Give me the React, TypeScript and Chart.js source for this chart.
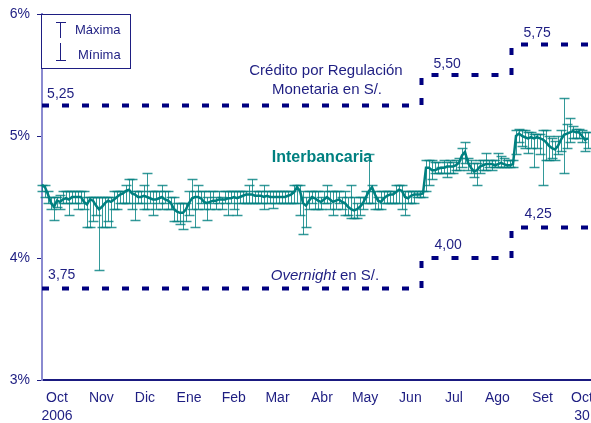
import React, { useEffect, useRef } from 'react';
import { Chart, registerables } from 'chart.js';

Chart.register(...registerables);

// ---- data ----
const MONTH_LABELS: string[][] = [
  ['Oct', '2006'], ['Nov'], ['Dic'], ['Ene'], ['Feb'], ['Mar'], ['Abr'],
  ['May'], ['Jun'], ['Jul'], ['Ago'], ['Set'], ['Oct', '30'],
];
const MONTH_TICK_POS = [5, 19.8, 34.3, 49, 63.9, 78.5, 93.3, 107.7, 122.8, 137.3, 151.8, 166.8, 180];
const X_MAX = 190;

const RATE = [
  4.60, 4.58, 4.52, 4.45, 4.42, 4.47, 4.46, 4.48, 4.49, 4.48,
  4.50, 4.50, 4.50, 4.50, 4.46, 4.44, 4.48, 4.47, 4.43, 4.40,
  4.42, 4.45, 4.47, 4.46, 4.48, 4.50, 4.52, 4.53, 4.55, 4.56,
  4.53, 4.52, 4.50, 4.50, 4.51, 4.50, 4.49, 4.48, 4.48, 4.49,
  4.50, 4.48, 4.47, 4.45, 4.40, 4.38, 4.37, 4.37, 4.40, 4.45,
  4.49, 4.50, 4.50, 4.49, 4.46, 4.45, 4.46, 4.47, 4.47, 4.48,
  4.48, 4.48, 4.49, 4.49, 4.50, 4.49, 4.50, 4.51, 4.52, 4.52,
  4.52, 4.51, 4.51, 4.51, 4.50, 4.51, 4.50, 4.50, 4.50, 4.50,
  4.50, 4.50, 4.51, 4.52, 4.54, 4.58, 4.55, 4.45, 4.43, 4.47,
  4.50, 4.49, 4.47, 4.46, 4.48, 4.50, 4.48, 4.46, 4.47, 4.48,
  4.46, 4.45, 4.42, 4.40, 4.39, 4.40, 4.42, 4.45, 4.50, 4.55,
  4.58, 4.52, 4.47, 4.46, 4.49, 4.51, 4.52, 4.52, 4.54, 4.56,
  4.55, 4.50, 4.49, 4.51, 4.52, 4.52, 4.52, 4.53, 4.74, 4.74,
  4.72, 4.72, 4.73, 4.74, 4.74, 4.75, 4.75, 4.75, 4.76, 4.78,
  4.84, 4.87, 4.78, 4.74, 4.71, 4.72, 4.75, 4.76, 4.77, 4.77,
  4.77, 4.76, 4.77, 4.78, 4.77, 4.76, 4.76, 4.77, 5.00, 5.02,
  5.00, 4.99, 4.98, 4.99, 4.98, 4.99, 4.98, 4.97, 4.95, 4.92,
  4.90, 4.89, 4.92, 4.97, 5.01, 5.02, 5.03, 5.04, 5.03, 5.03,
  5.00, 4.97, 4.98,
];
const MAX_RATE = [
  4.60, 4.60, 4.55, 4.50, 4.50, 4.50, 4.52, 4.55, 4.55, 4.55,
  4.55, 4.55, 4.55, 4.55, 4.55, 4.50, 4.50, 4.50, 4.50, 4.50,
  4.50, 4.50, 4.50, 4.50, 4.55, 4.55, 4.55, 4.55, 4.60, 4.65,
  4.65, 4.55, 4.55, 4.55, 4.60, 4.70, 4.55, 4.55, 4.55, 4.55,
  4.60, 4.55, 4.55, 4.50, 4.50, 4.45, 4.45, 4.45, 4.45, 4.55,
  4.65, 4.55, 4.60, 4.55, 4.55, 4.50, 4.55, 4.55, 4.50, 4.55,
  4.50, 4.55, 4.55, 4.55, 4.55, 4.55, 4.55, 4.55, 4.55, 4.60,
  4.65, 4.55, 4.55, 4.55, 4.60, 4.55, 4.55, 4.55, 4.55, 4.55,
  4.55, 4.55, 4.55, 4.55, 4.60, 4.60, 4.60, 4.55, 4.50, 4.55,
  4.55, 4.55, 4.55, 4.50, 4.55, 4.60, 4.55, 4.55, 4.55, 4.55,
  4.50, 4.55, 4.50, 4.60, 4.50, 4.45, 4.50, 4.50, 4.55, 4.85,
  4.60, 4.55, 4.50, 4.55, 4.55, 4.55, 4.55, 4.55, 4.60, 4.60,
  4.60, 4.55, 4.55, 4.55, 4.55, 4.55, 4.55, 4.55, 4.80, 4.80,
  4.80, 4.79, 4.79, 4.75, 4.80, 4.79, 4.80, 4.79, 4.80, 4.82,
  4.90, 4.95, 4.82, 4.80, 4.78, 4.78, 4.80, 4.80, 4.86, 4.80,
  4.80, 4.80, 4.86, 4.84, 4.82, 4.80, 4.80, 4.80, 5.05, 5.06,
  5.05, 5.05, 5.03, 5.03, 5.02, 5.02, 5.02, 5.05, 5.05, 5.00,
  4.98, 4.96, 5.00, 5.05, 5.31, 5.10, 5.15, 5.08, 5.06, 5.06,
  5.05, 5.03, 5.03,
];
const MIN_RATE = [
  4.55, 4.50, 4.45, 4.40, 4.31, 4.42, 4.40, 4.45, 4.45, 4.35,
  4.45, 4.45, 4.40, 4.45, 4.40, 4.25, 4.25, 4.30, 4.35, 3.90,
  4.25, 4.25, 4.30, 4.25, 4.40, 4.40, 4.45, 4.45, 4.45, 4.45,
  4.40, 4.31, 4.45, 4.45, 4.40, 4.40, 4.45, 4.35, 4.40, 4.45,
  4.40, 4.45, 4.40, 4.40, 4.30, 4.30, 4.28, 4.24, 4.30, 4.35,
  4.40, 4.25, 4.40, 4.45, 4.40, 4.31, 4.40, 4.45, 4.40, 4.45,
  4.40, 4.45, 4.35, 4.45, 4.40, 4.35, 4.45, 4.45, 4.45, 4.45,
  4.45, 4.45, 4.45, 4.45, 4.40, 4.45, 4.45, 4.41, 4.45, 4.45,
  4.45, 4.45, 4.45, 4.45, 4.45, 4.45, 4.35, 4.20, 4.25, 4.40,
  4.45, 4.40, 4.40, 4.40, 4.45, 4.45, 4.40, 4.35, 4.40, 4.45,
  4.40, 4.35, 4.35, 4.33, 4.33, 4.33, 4.35, 4.40, 4.45, 4.45,
  4.45, 4.40, 4.40, 4.40, 4.45, 4.45, 4.45, 4.45, 4.45, 4.45,
  4.40, 4.35, 4.45, 4.45, 4.45, 4.50, 4.50, 4.50, 4.55, 4.60,
  4.65, 4.70, 4.70, 4.70, 4.70, 4.66, 4.70, 4.70, 4.72, 4.72,
  4.75, 4.78, 4.72, 4.70, 4.66, 4.60, 4.70, 4.72, 4.72, 4.75,
  4.72, 4.75, 4.75, 4.75, 4.75, 4.75, 4.75, 4.75, 4.85, 4.95,
  4.92, 4.90, 4.86, 4.90, 4.75, 4.90, 4.85, 4.60, 4.80, 4.80,
  4.82, 4.80, 4.85, 4.88, 4.70, 4.90, 4.95, 4.98, 4.98, 4.98,
  4.95, 4.88, 4.90,
];

const STEP_POS = [126.5, 156.5];
const CRP_RATES = [5.25, 5.5, 5.75];
const ON_RATES = [3.75, 4.0, 4.25];
const CRP_LABELS = ['5,25', '5,50', '5,75'];
const ON_LABELS = ['3,75', '4,00', '4,25'];
const LABEL_POS = [1.7, 130.5, 160.5];

// ---- styles ----
const FONT = '"Liberation Sans", Arial, Helvetica, sans-serif';
const NAVY = '#1e1e82';
const DASH_NAVY = '#000080';
const TEAL = '#008080';

function stepPath(rates: number[]) {
  const pts = [{ x: 0, y: rates[0] }];
  STEP_POS.forEach((s, k) => {
    pts.push({ x: s, y: rates[k] });
    pts.push({ x: s, y: rates[k + 1] });
  });
  pts.push({ x: X_MAX, y: rates[rates.length - 1] });
  return pts;
}

const errorBars = {
  id: 'errorBars',
  beforeDatasetsDraw(chart: any) {
    const { ctx, scales } = chart;
    const x = scales.x, y = scales.y;
    ctx.save();
    ctx.strokeStyle = 'rgba(0,128,128,0.8)';
    RATE.forEach((_, i) => {
      const px = Math.round(x.getPixelForValue(i)) + 0.5;
      const yh = Math.round(y.getPixelForValue(MAX_RATE[i])) + 0.5;
      const yl = Math.round(y.getPixelForValue(MIN_RATE[i])) + 0.5;
      ctx.lineWidth = 1;
      ctx.beginPath();
      ctx.moveTo(px, yh);
      ctx.lineTo(px, yl);
      ctx.stroke();
      ctx.lineWidth = 1.5;
      ctx.beginPath();
      ctx.moveTo(px - 5, yh);
      ctx.lineTo(px + 5, yh);
      ctx.moveTo(px - 5, yl);
      ctx.lineTo(px + 5, yl);
      ctx.stroke();
    });
    ctx.restore();
  },
};

const annotations = {
  id: 'annotations',
  afterDraw(chart: any) {
    const { ctx, scales } = chart;
    const x = scales.x, y = scales.y;
    ctx.save();
    ctx.fillStyle = NAVY;
    ctx.textBaseline = 'middle';
    // value labels
    ctx.font = `14px ${FONT}`;
    ctx.textAlign = 'left';
    CRP_LABELS.forEach((t, k) => {
      ctx.fillText(t, x.getPixelForValue(LABEL_POS[k]), y.getPixelForValue(CRP_RATES[k]) - 11);
    });
    ON_LABELS.forEach((t, k) => {
      ctx.fillText(t, x.getPixelForValue(LABEL_POS[k]) + 1, y.getPixelForValue(ON_RATES[k]) - 13);
    });
    // series titles
    ctx.font = `15px ${FONT}`;
    ctx.textAlign = 'center';
    ctx.fillText('Crédito por Regulación', 326, 71);
    ctx.fillText('Monetaria en S/.', 327, 90);
    // Overnight en S/.
    ctx.textAlign = 'left';
    ctx.font = `italic 15px ${FONT}`;
    const w1 = ctx.measureText('Overnight').width;
    ctx.font = `15px ${FONT}`;
    const w2 = ctx.measureText(' en S/.').width;
    const sx = 325 - (w1 + w2) / 2;
    ctx.font = `italic 15px ${FONT}`;
    ctx.fillText('Overnight', sx, 276);
    ctx.font = `15px ${FONT}`;
    ctx.fillText(' en S/.', sx + w1, 276);
    // Interbancaria
    ctx.fillStyle = TEAL;
    ctx.font = `bold 16px ${FONT}`;
    ctx.textAlign = 'center';
    ctx.fillText('Interbancaria', 322, 158);

    // legend box
    const lx = chart.chartArea.left - 0.5, ly = chart.chartArea.top + 0.5;
    ctx.fillStyle = '#ffffff';
    ctx.fillRect(lx, ly, 89, 54);
    ctx.strokeStyle = NAVY;
    ctx.lineWidth = 1;
    ctx.strokeRect(lx, ly, 89, 54);
    ctx.beginPath();
    ctx.moveTo(60.5, 22);
    ctx.lineTo(60.5, 38);
    ctx.moveTo(56, 22.5);
    ctx.lineTo(66, 22.5);
    ctx.moveTo(60.5, 43);
    ctx.lineTo(60.5, 60);
    ctx.moveTo(56, 60.5);
    ctx.lineTo(66, 60.5);
    ctx.stroke();
    ctx.fillStyle = NAVY;
    ctx.font = `13px ${FONT}`;
    ctx.textAlign = 'left';
    ctx.fillText('Máxima', 75, 30);
    ctx.fillText('Mínima', 78, 55);
    ctx.restore();
  },
};

export default function App() {
  const ref = useRef<HTMLCanvasElement | null>(null);
  useEffect(() => {
    if (!ref.current) return;
    const chart = new Chart(ref.current, {
      type: 'line',
      data: {
        datasets: [
          {
            label: 'Interbancaria',
            data: RATE.map((v, i) => ({ x: i, y: v })),
            borderColor: TEAL,
            borderWidth: 2.5,
            pointRadius: 0,
            tension: 0,
            order: 2,
          },
          {
            label: 'Crédito por Regulación Monetaria',
            data: stepPath(CRP_RATES),
            borderColor: DASH_NAVY,
            borderWidth: 4,
            borderDash: [7, 13],
            borderCapStyle: 'butt',
            pointRadius: 0,
            tension: 0,
            order: 1,
          },
          {
            label: 'Overnight',
            data: stepPath(ON_RATES),
            borderColor: DASH_NAVY,
            borderWidth: 4,
            borderDash: [7, 13],
            borderCapStyle: 'butt',
            pointRadius: 0,
            tension: 0,
            order: 1,
          },
        ],
      },
      options: {
        animation: false,
        responsive: false,
        devicePixelRatio: 1,
        layout: { padding: { top: 14, right: 8, left: 0, bottom: 0 } },
        plugins: { legend: { display: false }, tooltip: { enabled: false } },
        scales: {
          x: {
            type: 'linear',
            min: 0,
            max: X_MAX,
            afterBuildTicks: (scale: any) => {
              scale.ticks = MONTH_TICK_POS.map((v) => ({ value: v }));
            },
            afterFit: (scale: any) => {
              scale.height = 43;
              scale.paddingLeft = 0;
              scale.paddingRight = 0;
            },
            grid: { display: true, drawOnChartArea: false, drawTicks: false },
            border: { display: true, color: '#1a1a80', width: 2 },
            ticks: {
              autoSkip: false,
              maxRotation: 0,
              padding: 9,
              color: NAVY,
              font: { family: FONT, size: 14, lineHeight: 1.29 },
              callback: (_v: any, idx: number) => MONTH_LABELS[idx],
            },
          },
          y: {
            min: 3,
            max: 6,
            afterFit: (scale: any) => {
              scale.width = 42;
              scale.paddingTop = 0;
              scale.paddingBottom = 0;
            },
            grid: { display: true, drawOnChartArea: false, drawTicks: true, tickLength: 5, color: NAVY },
            border: { display: true, color: '#8a8ad0', width: 2 },
            ticks: {
              stepSize: 1,
              padding: 7,
              color: NAVY,
              font: { family: FONT, size: 14 },
              callback: (v: any) => `${v}%`,
            },
          },
        },
      },
      plugins: [errorBars, annotations],
    } as any);
    return () => chart.destroy();
  }, []);
  return (
    <div style={{ position: 'fixed', left: 0, top: 0, width: 591, height: 423, overflow: 'hidden', background: '#fff' }}>
      <canvas ref={ref} width={620} height={423} style={{ display: 'block', width: 620, height: 423 }} />
    </div>
  );
}
